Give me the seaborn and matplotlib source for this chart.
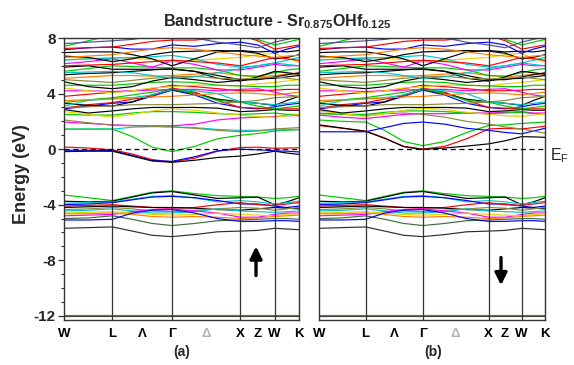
import numpy as np
import pandas as pd
import matplotlib
matplotlib.use("Agg")
import matplotlib.pyplot as plt
import seaborn as sns

sns.set_theme(style="white")
plt.rcParams["font.family"] = ["Liberation Sans", "DejaVu Sans"]
plt.rcParams["mathtext.fontset"] = "custom"
plt.rcParams["mathtext.rm"] = "Liberation Sans"
plt.rcParams["mathtext.bf"] = "Liberation Sans:bold"
plt.rcParams["mathtext.it"] = "Liberation Sans:italic"

# ---------------- k path ----------------
sym_labels = ["W", "L", "Γ", "X", "W", "K"]
sym_k = [0.0, 0.707, 1.573, 2.573, 3.073, 3.427]
mid_labels = ["Λ", "Δ", "Z"]
mid_k = [1.140, 2.073, 2.823]
k_samples = [0.0, 0.354, 0.707, 0.996, 1.284, 1.573, 1.906, 2.240, 2.573, 2.823, 3.073, 3.250, 3.427]

# colours
K_, R_, G_, B_, C_, M_, Y_ = "#000000", "#ff0000", "#00c800", "#0000ff", "#00c8c8", "#ff00ff", "#e6d200"
O_, OR_, DG_, NV_ = "#8a8a3c", "#ff7f00", "#3c6e3c", "#5050a0"

# ---------------- spin up: bands near the gap ----------------
up_low_E = [
    [0.15, 0.08, -0.05, -0.35, -0.75, -0.92, -0.65, -0.15, 0.12, 0.14, 0.06, 0.08, 0.10],
    [-0.08, -0.08, -0.10, -0.45, -0.82, -0.88, -0.55, -0.12, 0.00, -0.05, -0.12, -0.15, -0.20],
    [-0.18, -0.15, -0.15, -0.50, -0.85, -0.95, -0.80, -0.60, -0.50, -0.35, -0.15, -0.28, -0.38],
    [1.45, 1.45, 1.45, 0.90, 0.15, -0.18, 0.20, 0.75, 1.00, 1.12, 1.30, 1.36, 1.40],
    [1.42, 1.43, 1.44, 1.58, 1.62, 1.60, 1.55, 1.42, 1.35, 1.35, 1.38, 1.40, 1.42],
    [1.95, 1.85, 1.75, 1.70, 1.68, 1.68, 1.80, 2.10, 2.25, 2.30, 2.35, 2.40, 2.42],
    [2.10, 1.90, 1.72, 1.68, 1.65, 1.60, 1.50, 1.35, 1.25, 1.30, 1.45, 1.50, 1.55],
    [2.50, 2.45, 2.45, 2.60, 2.70, 2.70, 2.65, 2.55, 2.50, 2.55, 2.60, 2.50, 2.50],
    [2.70, 2.50, 2.30, 2.50, 2.75, 2.90, 2.80, 2.60, 2.45, 2.35, 2.30, 2.40, 2.50],
]
up_low_colors = [R_, B_, K_, G_, C_, M_, O_, G_, Y_]

# ---------------- spin down: bands near the gap ----------------
dn_low_E = [
    [1.70, 1.50, 1.30, 0.80, 0.20, 0.00, 0.20, 0.75, 1.45, 1.50, 1.45, 1.55, 1.65],
    [1.75, 1.52, 1.28, 0.78, 0.18, -0.02, 0.08, 0.22, 0.38, 0.60, 0.90, 0.88, 0.85],
    [2.10, 2.00, 1.95, 1.35, 0.55, 0.25, 0.55, 1.20, 1.70, 1.75, 1.85, 1.90, 1.95],
    [1.25, 1.25, 1.25, 1.55, 1.85, 1.95, 1.80, 1.50, 1.35, 1.20, 1.10, 1.30, 1.50],
    [2.45, 2.30, 2.20, 2.35, 2.50, 2.55, 2.55, 2.60, 2.60, 2.65, 2.70, 2.60, 2.60],
    [2.60, 2.50, 2.40, 2.55, 2.60, 2.50, 2.30, 2.00, 1.80, 1.60, 1.45, 1.30, 1.15],
    [2.55, 2.50, 2.50, 2.65, 2.75, 2.75, 2.70, 2.60, 2.55, 2.60, 2.65, 2.55, 2.55],
    [2.75, 2.55, 2.35, 2.55, 2.80, 2.95, 2.85, 2.65, 2.50, 2.40, 2.35, 2.45, 2.55],
]
dn_low_colors = [R_, K_, G_, B_, M_, O_, G_, Y_]

# ---------------- upper conduction bands (both spins) ----------------
upper_E = [
    [2.85, 2.60, 2.75, 2.90, 3.00, 3.00, 3.00, 2.95, 2.70, 2.75, 2.85, 2.80, 2.80],
    [2.90, 3.10, 3.30, 3.40, 3.80, 4.25, 3.90, 3.30, 3.00, 2.90, 3.05, 3.20, 3.30],
    [2.95, 3.20, 3.35, 3.60, 3.80, 4.40, 4.10, 3.50, 3.00, 2.95, 2.90, 2.90, 2.90],
    [3.30, 3.15, 3.10, 3.40, 3.90, 4.30, 4.00, 3.60, 3.40, 3.30, 3.15, 3.50, 3.80],
    [3.10, 3.50, 3.65, 3.70, 3.90, 4.30, 4.20, 4.00, 3.40, 3.30, 3.20, 3.30, 3.40],
    [3.35, 3.55, 3.70, 3.90, 4.10, 4.35, 4.00, 3.50, 3.38, 3.10, 2.90, 3.00, 3.10],
    [3.80, 3.95, 4.10, 4.20, 4.35, 4.60, 4.50, 4.35, 4.20, 4.20, 4.25, 4.30, 4.30],
    [4.20, 4.20, 4.15, 4.20, 4.25, 4.30, 4.30, 4.20, 4.30, 4.35, 4.10, 3.90, 3.80],
    [4.40, 4.20, 4.05, 4.20, 4.40, 4.50, 4.60, 4.60, 4.55, 4.70, 4.80, 4.90, 5.00],
    [4.60, 4.60, 4.60, 4.70, 4.80, 4.85, 4.80, 4.60, 4.55, 4.50, 4.50, 4.60, 4.60],
    [4.85, 4.50, 4.35, 4.50, 4.90, 5.15, 5.00, 4.80, 4.95, 5.05, 5.10, 5.20, 5.30],
    [5.10, 5.20, 5.30, 5.30, 5.25, 5.30, 5.40, 5.50, 5.30, 5.20, 5.30, 5.40, 5.40],
    [5.35, 5.45, 5.50, 5.60, 5.70, 5.80, 5.60, 5.30, 5.00, 5.00, 5.20, 5.35, 5.50],
    [5.60, 5.80, 6.00, 5.95, 5.90, 5.85, 5.85, 5.70, 5.30, 5.25, 5.50, 5.70, 5.80],
    [5.90, 6.00, 5.75, 5.75, 5.75, 5.75, 5.60, 5.10, 4.90, 5.20, 5.60, 5.50, 5.40],
    [6.15, 6.30, 6.50, 6.20, 5.90, 6.35, 6.10, 5.70, 5.70, 5.90, 6.10, 6.00, 6.00],
    [6.45, 6.50, 6.60, 6.55, 6.45, 6.30, 6.40, 6.50, 6.60, 6.80, 6.90, 6.50, 6.30],
    [6.40, 6.50, 6.55, 6.60, 6.65, 6.75, 6.50, 6.10, 5.90, 6.00, 6.20, 6.40, 6.60],
    [6.70, 6.60, 6.30, 6.50, 6.80, 7.00, 7.05, 7.10, 7.05, 6.90, 6.50, 6.60, 6.80],
    [6.95, 7.00, 7.00, 6.80, 6.50, 6.00, 6.50, 7.00, 7.10, 7.00, 7.05, 7.00, 7.10],
    [7.15, 7.30, 7.35, 7.20, 7.20, 7.50, 7.40, 7.60, 7.70, 7.50, 6.90, 7.20, 7.40],
    [7.25, 7.30, 7.35, 7.55, 7.75, 7.85, 7.85, 8.00, 8.20, 7.80, 7.20, 7.35, 7.50],
    [7.40, 7.80, 8.20, 8.40, 8.50, 8.50, 8.30, 8.10, 8.30, 7.90, 7.50, 7.70, 7.90],
    [5.00, 4.90, 4.80, 4.95, 5.10, 5.20, 5.25, 5.10, 5.05, 5.10, 5.20, 5.10, 5.00],
    [6.00, 6.05, 6.10, 6.20, 6.30, 6.40, 6.30, 6.20, 6.00, 6.30, 6.60, 6.50, 6.40],
    [3.50, 3.55, 3.60, 3.70, 3.75, 3.80, 3.90, 4.00, 4.05, 4.00, 3.90, 4.00, 4.10],
    [6.60, 6.70, 6.80, 7.00, 7.20, 7.30, 7.20, 7.00, 6.80, 6.70, 6.60, 6.70, 6.75],
    [7.60, 7.70, 7.80, 7.90, 8.10, 8.20, 8.00, 7.70, 7.50, 7.30, 7.70, 7.90, 8.10],
    [5.50, 5.55, 5.60, 5.50, 5.30, 5.10, 5.20, 5.50, 5.80, 6.00, 6.20, 6.10, 6.00],
    [3.00, 3.05, 3.10, 3.20, 3.20, 3.20, 3.25, 3.30, 3.40, 3.50, 3.70, 3.75, 3.80],
]
upper_colors = [K_, B_, R_, K_, C_, G_, R_, M_, Y_, G_, K_, OR_, K_, G_, K_, M_, Y_, C_,
                K_, K_, B_, R_, G_, O_, R_, OR_, OR_, NV_, C_, O_]

# ---------------- valence manifold (both spins) ----------------
valence_E = [
    [-3.30, -3.50, -3.70, -3.40, -3.10, -3.00, -3.20, -3.35, -3.40, -3.45, -3.55, -3.50, -3.40],
    [-3.75, -3.80, -3.75, -3.45, -3.15, -3.05, -3.30, -3.55, -3.50, -3.45, -4.00, -3.80, -3.50],
    [-3.90, -3.85, -3.80, -3.60, -3.40, -3.35, -3.50, -3.80, -3.70, -3.80, -3.95, -3.85, -3.75],
    [-4.00, -3.95, -3.85, -3.65, -3.45, -3.40, -3.50, -3.70, -3.95, -3.95, -4.10, -4.20, -4.10],
    [-4.10, -4.05, -4.00, -4.10, -4.20, -4.25, -4.20, -4.00, -3.85, -4.00, -4.05, -3.95, -3.85],
    [-4.20, -4.15, -4.10, -4.15, -4.20, -4.20, -4.25, -4.35, -4.40, -4.30, -4.20, -4.25, -4.30],
    [-4.35, -4.30, -4.20, -4.30, -4.45, -4.50, -4.40, -4.30, -4.20, -4.25, -4.40, -4.30, -4.20],
    [-4.45, -4.40, -4.30, -4.45, -4.60, -4.60, -4.50, -4.30, -4.45, -4.50, -4.55, -4.50, -4.45],
    [-4.80, -4.75, -4.70, -4.50, -4.35, -4.30, -4.45, -4.60, -4.90, -4.90, -4.70, -4.60, -4.60],
    [-4.60, -4.55, -4.50, -4.60, -4.70, -4.75, -4.70, -4.60, -4.70, -4.75, -4.80, -4.70, -4.65],
    [-4.65, -4.65, -4.60, -4.70, -4.85, -4.90, -4.85, -4.90, -5.00, -4.95, -4.85, -4.80, -4.75],
    [-5.00, -4.95, -4.80, -5.05, -5.35, -5.50, -5.35, -5.15, -5.10, -5.05, -5.00, -5.00, -5.05],
    [-5.10, -5.10, -5.05, -4.60, -4.40, -4.35, -4.60, -5.00, -5.20, -5.20, -5.15, -5.15, -5.20],
    [-5.70, -5.65, -5.60, -5.90, -6.20, -6.30, -6.15, -5.95, -5.90, -5.85, -5.70, -5.75, -5.80],
    [-12.02, -12.02, -12.02, -12.02, -12.02, -12.02, -12.02, -12.02, -12.02, -12.02, -12.02, -12.02, -12.02],
    [-11.94, -11.94, -11.94, -11.94, -11.94, -11.94, -11.94, -11.94, -11.94, -11.94, -11.94, -11.94, -11.94],
]
valence_colors = [G_, K_, C_, B_, R_, K_, O_, C_, M_, Y_, OR_, DG_, B_, "#303030", "#404040", "#2a9a2a"]


def build(frames):
    rows = []
    bid = 0
    pal = {}
    for E_list, cols in frames:
        for E, c in zip(E_list, cols):
            name = f"b{bid:03d}"
            pal[name] = c
            for k, e in zip(k_samples, E):
                rows.append((name, k, e))
            bid += 1
    return pd.DataFrame(rows, columns=["band", "k", "E"]), pal


df_up, pal_up = build([(valence_E, valence_colors), (up_low_E, up_low_colors), (upper_E, upper_colors)])
df_dn, pal_dn = build([(valence_E, valence_colors), (dn_low_E, dn_low_colors), (upper_E, upper_colors)])

W, H = 574, 365
fig = plt.figure(figsize=(W / 100, H / 100), dpi=100)
axA = fig.add_axes([64 / W, 1 - 320 / H, 235 / W, 282 / H])
axB = fig.add_axes([319 / W, 1 - 320 / H, 226 / W, 282 / H])

frame_col = "#333333"
for ax, df, pal in [(axA, df_up, pal_up), (axB, df_dn, pal_dn)]:
    sns.lineplot(data=df, x="k", y="E", hue="band", palette=pal, estimator=None,
                 legend=False, ax=ax, linewidth=0.85, sort=False)
    for k in sym_k[1:-1]:
        ax.axvline(k, color=frame_col, lw=0.9, zorder=5)
    ax.axhline(0, color="black", lw=0.9, ls=(0, (4, 3)), zorder=6)
    ax.set_xlim(0, sym_k[-1])
    ax.set_ylim(-12.3, 8)
    ax.set_xlabel("")
    ax.set_ylabel("")
    for s in ax.spines.values():
        s.set_color(frame_col)
        s.set_linewidth(1.0)
        s.set_visible(True)
    ticks = [sym_k[0], sym_k[1], mid_k[0], sym_k[2], mid_k[1], sym_k[3], mid_k[2], sym_k[4], sym_k[5]]
    labels = [sym_labels[0], sym_labels[1], mid_labels[0], sym_labels[2], mid_labels[1],
              sym_labels[3], mid_labels[2], sym_labels[4], sym_labels[5]]
    ax.set_xticks(ticks)
    ax.set_xticklabels(labels, fontsize=9.5, fontweight="bold")
    ax.tick_params(axis="x", length=0, pad=6, colors="black")
    ax.get_xticklabels()[4].set_color("#b4b4b4")

axA.set_yticks([-12, -8, -4, 0, 4, 8])
axA.set_yticklabels(["-12", "-8", "-4", "0", "4", "8"], fontsize=11, fontweight="bold")
axA.set_yticks(np.arange(-12, 9, 1), minor=True)
axA.tick_params(axis="y", which="major", direction="out", length=4, width=0.9, color=frame_col, left=True, pad=2)
axA.tick_params(axis="y", which="minor", direction="out", length=2.5, width=0.8, color=frame_col, left=True)
axB.set_yticks([])

# spin arrows
axA.annotate("", xy=(2.80, -7.0), xytext=(2.80, -9.1),
             arrowprops=dict(arrowstyle="-|>,head_width=0.3,head_length=0.6", lw=2.4, color="black",
                             shrinkA=0, shrinkB=0))
axB.annotate("", xy=(2.76, -9.8), xytext=(2.76, -7.8),
             arrowprops=dict(arrowstyle="-|>,head_width=0.3,head_length=0.6", lw=2.4, color="black",
                             shrinkA=0, shrinkB=0))

fig.text(277 / W, 1 - 22 / H, r"Bandstructure - Sr$_{\mathbf{0.875}}$OHf$_{\mathbf{0.125}}$",
         ha="center", va="center", fontsize=11.5, fontweight="bold")
fig.text(22 / W, 1 - 174 / H, "Energy (eV)", rotation=90, ha="center", va="center",
         fontsize=13, fontweight="bold")
fig.text(182 / W, 1 - 352 / H, "(a)", ha="center", va="center", fontsize=10, fontweight="bold")
fig.text(433 / W, 1 - 352 / H, "(b)", ha="center", va="center", fontsize=10, fontweight="bold")
fig.text(550 / W, 1 - 156 / H, r"E$_\mathrm{F}$", ha="left", va="center", fontsize=11.5)

fig.savefig("out.png", dpi=100)
